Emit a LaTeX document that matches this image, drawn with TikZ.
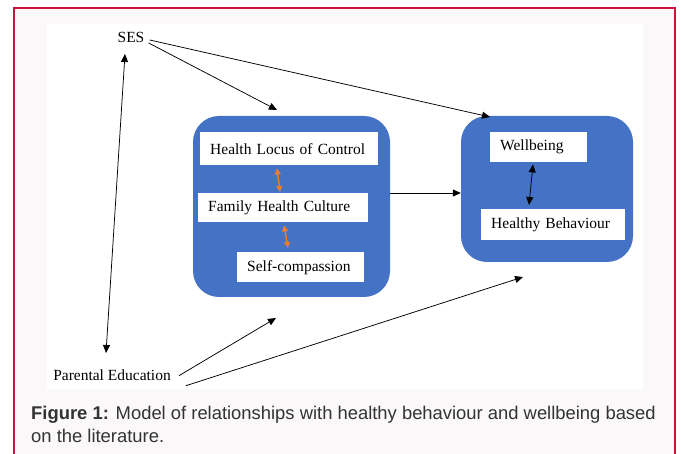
\documentclass[tikz,border=0pt]{standalone}
\usepackage{fontspec}
\setmainfont{Liberation Serif}
\newfontfamily\capfont{Liberation Sans}
\usetikzlibrary{arrows.meta}
\definecolor{framered}{RGB}{200,20,60}
\definecolor{panelgray}{RGB}{250,248,249}
\definecolor{boxblue}{RGB}{68,114,196}
\definecolor{linkorange}{RGB}{237,125,49}
\definecolor{captext}{RGB}{51,51,51}

\begin{document}
\begin{tikzpicture}[x=1pt,y=-1pt,
    group/.style={fill=boxblue, rounded corners=26pt, inner sep=0pt},
    var/.style={fill=white, anchor=north west, inner xsep=10pt, inner ysep=0pt, align=left, font=\fontsize{15.5}{18}\selectfont},
    lbl/.style={font=\fontsize{15.5}{18}\selectfont, inner sep=0pt},
    capline/.style={font=\capfont\fontsize{18.4}{23}\selectfont, text=captext, anchor=base west, inner sep=0pt},
    arr/.style={-{Triangle[length=8pt,width=7pt]}, line width=0.75pt},
    dblarr/.style={{Triangle[length=8pt,width=7pt]}-{Triangle[length=8pt,width=7pt]}, line width=0.75pt},
    orangearr/.style={{Triangle[length=6pt,width=6pt]}-{Triangle[length=6pt,width=6pt]}, line width=1.4pt, linkorange}]
            \useasboundingbox (0,0) rectangle (681,454);
            \fill[white] (0,0) rectangle (681,454);
            \fill[panelgray] (14,8) rectangle (675,454);
            \draw[framered, line width=1.2pt] (14,454) -- (14,8) -- (675,8) -- (675,454);
            \fill[white] (47,24) rectangle (643,389);
            
            \node[group, minimum width=197pt, minimum height=181pt] (groupleft) at (291.5,206.5) {};
            \node[group, minimum width=172pt, minimum height=146pt] (groupright) at (547,189) {};
            
            \node[var, text width=158pt, minimum height=33pt] (locus) at (200,132) {Health Locus of Control};
            \node[var, text width=150pt, minimum height=29pt] (culture) at (198,193) {Family Health Culture};
            \node[var, text width=107pt, minimum height=30pt] (selfcomp) at (237,252) {Self-compassion};
            \node[var, text width=77pt, minimum height=30pt] (wellbeing) at (490,132) {Wellbeing};
            \node[var, text width=124pt, minimum height=31pt] (behaviour) at (481,209) {Healthy Behaviour};
            
            \node[lbl, anchor=base] (ses) at (131,43) {SES};
            \node[lbl, anchor=base] (parent) at (112,381) {Parental Education};
            
            \coordinate (sesup) at (125,54);
            \coordinate (parentdown) at (106,353);
            \coordinate (lefttop) at (277,110);
            \coordinate (righttop) at (490,117);
            \coordinate (leftbottom) at (276,318);
            \coordinate (rightbottom) at (523,277);
            
            \draw[dblarr] (sesup) -- (parentdown);
            \draw[arr] ([shift={(5,2)}]ses.east) -- (righttop);
            \draw[arr] ([shift={(4,5)}]ses.east) -- (lefttop);
            \draw[arr] ([shift={(8,0)}]parent.east) -- (leftbottom);
            \draw[arr] ([shift={(15,10)}]parent.east) -- (rightbottom);
            \draw[arr] ([yshift=13.5pt]groupleft.east) -- ([yshift=13.5pt]groupleft.east -| groupright.west);
            
            \draw[orangearr] ([shift={(77,3)}]locus.south west) -- ([shift={(82,-1)}]culture.north west);
            \draw[orangearr] ([shift={(86,3)}]culture.south west) -- ([shift={(51,-4)}]selfcomp.north west);
            \draw[dblarr] ([shift={(43,2)}]wellbeing.south west) -- ([shift={(48,-4)}]behaviour.north west);
            
            \node[capline] (caption) at (31,420) {\textbf{Figure 1:} Model of relationships with healthy behaviour and wellbeing based};
            \node[capline] (captionend) at (31,443) {on the literature.};
        \end{tikzpicture}
\end{document}
